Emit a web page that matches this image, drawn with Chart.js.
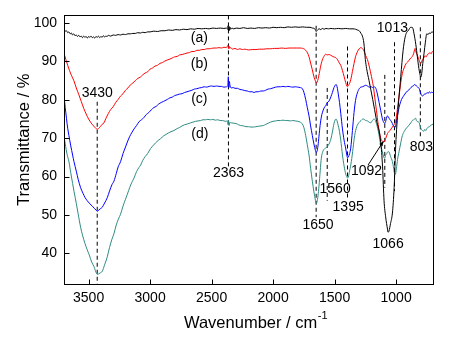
<!DOCTYPE html>
<html>
<head>
<meta charset="utf-8">
<script src="https://cdn.jsdelivr.net/npm/chart.js@4/dist/chart.umd.min.js"></script>
<style>
  html, body { margin: 0; padding: 0; background: #fff; }
  #wrap { width: 454px; height: 340px; }
</style>
</head>
<body>
<div id="wrap"><canvas id="ftir" width="454" height="340"></canvas></div>
<script>
// FTIR spectra, transmittance (%) versus wavenumber (cm-1)
const xTicks = [3500, 3000, 2500, 2000, 1500, 1000];
const yTicks = [40, 50, 60, 70, 80, 90, 100];
const seriesNames = ['(a)', '(b)', '(c)', '(d)'];
const seriesColors = ['#000000', '#ff0000', '#0000ff', '#2e8b82'];

// (a)
const waveA = [3700,3690,3680,3670,3660,3650,3640,3630,3620,3610,3600,3590,3580,3570,3560,3550,3540,3530,3520,3510,3500,3490,3480,3470,3460,3450,3440,3430,3420,3410,3400,3390,3380,3370,3360,3350,3340,3320,3300,3280,3260,3240,3220,3200,3180,3160,3140,3120,3100,3080,3060,3040,3020,3000,2970,2940,2910,2880,2850,2820,2790,2760,2730,2700,2670,2640,2610,2580,2550,2520,2490,2460,2430,2400,2380,2370,2366,2362,2358,2354,2350,2344,2335,2320,2300,2270,2240,2210,2180,2150,2120,2090,2060,2030,2000,1970,1940,1910,1880,1850,1820,1790,1760,1730,1700,1680,1665,1656,1650,1644,1636,1625,1612,1600,1585,1570,1550,1530,1500,1470,1440,1410,1380,1350,1330,1315,1300,1287,1274,1262,1250,1240,1220,1190,1160,1125,1110,1098,1085,1070,1066,1058,1045,1030,1016,1003,984,962,943,927,915,902,881,866,854,840,827,815,805,800,794,783,773,762,751,740,732,720,710,700];
const transA = [98.3,97.9,98.0,97.5,97.7,97.2,97.4,96.9,97.2,96.7,96.9,96.5,96.8,96.4,96.6,96.2,96.6,96.3,96.5,96.1,96.5,96.3,96.6,96.2,96.4,96.1,96.5,96.3,96.6,96.2,96.5,96.3,96.7,96.4,96.6,96.5,96.8,96.6,96.9,96.8,97.0,96.9,97.1,97.0,97.2,97.2,97.3,97.3,97.5,97.4,97.6,97.5,97.7,97.7,97.9,97.8,98.0,98.0,98.2,98.1,98.3,98.2,98.4,98.3,98.5,98.4,98.6,98.5,98.6,98.5,98.7,98.6,98.7,98.6,98.7,98.4,99.3,97.9,99.1,98.1,98.9,98.4,98.7,98.5,98.7,98.6,98.8,98.6,98.7,98.6,98.8,98.7,98.8,98.7,98.9,98.8,98.9,98.8,99.0,98.9,99.0,98.9,99.0,98.9,98.9,98.7,98.6,98.2,97.8,98.0,98.3,98.5,98.3,98.6,98.4,98.6,98.5,98.6,98.5,98.6,98.5,98.6,98.5,98.5,98.4,98.2,98.0,97.4,96.6,94.8,90.5,88.2,85.0,80.1,74.8,69.0,62.5,53.7,49.5,46.3,45.5,45.8,47.8,50.5,57.1,68.2,77.6,86.1,92.9,96.3,97.5,98.0,98.9,98.8,97.2,94.5,91.2,88.2,86.5,85.9,86.3,89.5,92.1,95.0,97.2,97.0,97.4,97.3,97.7,97.6];

// (b)
const waveB = [3700,3685,3670,3655,3640,3620,3600,3580,3560,3540,3520,3500,3480,3460,3445,3430,3420,3405,3390,3375,3360,3340,3320,3300,3280,3260,3240,3220,3200,3180,3160,3140,3120,3100,3080,3060,3040,3020,3000,2980,2960,2940,2920,2900,2880,2860,2840,2820,2800,2780,2760,2740,2720,2700,2680,2660,2640,2620,2600,2580,2560,2540,2520,2500,2480,2460,2440,2420,2400,2380,2366,2362,2358,2352,2345,2330,2310,2290,2270,2250,2230,2200,2170,2140,2110,2080,2050,2020,1990,1960,1930,1900,1870,1840,1810,1780,1760,1745,1735,1720,1708,1695,1681,1667,1655,1650,1642,1633,1625,1615,1600,1585,1572,1560,1545,1531,1515,1500,1490,1475,1462,1450,1436,1423,1410,1400,1395,1388,1378,1369,1355,1342,1330,1315,1300,1287,1275,1260,1247,1233,1219,1200,1185,1173,1160,1145,1125,1110,1100,1092,1085,1070,1050,1030,1015,1003,990,976,962,949,935,920,908,895,880,868,858,850,846,840,830,818,808,800,794,785,775,765,755,745,735,725,715,705,700];
const transB = [92.1,90.5,89.0,87.6,86.4,85.0,83.1,81.4,79.6,77.8,76.3,75.0,74.0,73.2,72.7,72.3,72.5,73.0,73.6,74.0,75.1,76.4,77.5,78.2,79.3,80.1,81.0,81.6,82.5,83.1,83.9,84.4,85.0,85.6,85.9,86.5,87.0,87.3,88.0,88.3,88.8,89.0,89.5,89.7,90.1,90.4,90.6,90.9,91.2,91.3,91.7,91.8,92.0,92.2,92.3,92.6,92.6,92.9,92.9,93.1,93.1,93.3,93.3,93.4,93.5,93.5,93.6,93.5,93.7,93.6,94.2,93.3,94.0,93.4,93.6,93.2,93.4,93.1,93.3,93.1,93.2,93.0,93.1,93.1,93.2,93.2,93.3,93.3,93.4,93.4,93.5,93.4,93.5,93.5,93.5,93.5,93.4,93.2,92.9,92.2,91.2,89.6,87.8,85.9,84.8,84.4,84.6,85.6,86.8,88.5,90.4,91.4,91.9,91.7,91.8,91.6,91.3,91.1,91.0,90.4,89.6,89.0,87.6,86.1,84.5,83.6,83.4,83.7,84.3,85.2,87.4,89.5,91.2,92.5,93.3,93.6,93.4,92.7,91.5,90.5,88.8,86.0,83.5,80.5,77.3,73.5,70.0,69.2,69.0,69.3,69.9,71.2,72.0,72.9,73.6,74.4,77.5,81.0,84.5,86.9,88.3,89.4,89.8,90.3,90.9,91.3,92.0,93.0,93.4,92.6,91.8,90.8,89.9,89.5,89.8,90.5,90.9,91.5,91.2,91.8,92.0,92.3,92.0,92.6,92.5];

// (c)
const waveC = [3700,3690,3680,3670,3660,3645,3630,3619,3600,3585,3565,3545,3530,3511,3490,3470,3450,3435,3430,3420,3405,3389,3370,3348,3330,3310,3294,3275,3260,3240,3220,3200,3185,3165,3150,3131,3110,3090,3070,3050,3030,3010,2990,2969,2950,2930,2910,2890,2860,2840,2820,2800,2780,2760,2740,2720,2700,2680,2660,2640,2620,2600,2580,2560,2540,2520,2500,2480,2460,2440,2420,2400,2380,2368,2364,2360,2356,2350,2340,2325,2310,2290,2270,2250,2230,2210,2190,2170,2155,2140,2120,2100,2080,2060,2040,2020,2000,1980,1960,1940,1920,1900,1880,1860,1840,1820,1800,1780,1762,1750,1735,1722,1708,1695,1681,1668,1656,1650,1643,1635,1627,1618,1608,1600,1585,1572,1560,1545,1530,1518,1505,1495,1488,1480,1470,1460,1450,1436,1423,1409,1398,1395,1388,1378,1369,1355,1342,1330,1315,1300,1287,1274,1260,1247,1233,1218,1205,1193,1180,1165,1152,1138,1125,1111,1100,1092,1083,1075,1070,1062,1050,1043,1030,1020,1013,1006,998,988,976,962,949,935,922,908,895,880,868,858,850,843,835,825,813,805,796,786,776,766,759,748,738,730,720,710,700];
const transC = [81.0,78.0,75.2,72.6,70.7,68.0,65.6,63.9,61.4,59.3,57.1,55.6,54.6,53.7,52.9,52.3,51.6,51.1,50.9,51.2,51.6,52.0,53.1,54.5,56.2,57.9,58.8,60.8,62.5,63.9,66.0,67.7,69.0,70.5,71.4,72.4,73.3,74.3,74.8,75.4,76.2,76.7,77.4,78.0,78.3,78.9,79.3,79.6,80.1,80.5,80.7,81.1,81.3,81.5,81.6,81.9,82.1,82.3,82.5,82.8,82.9,83.1,83.2,83.4,83.3,83.5,83.6,83.5,83.6,83.5,83.5,83.3,83.4,83.7,86.0,83.2,84.8,83.6,83.1,83.2,83.0,83.0,82.7,82.6,82.4,82.3,82.1,82.1,81.9,82.1,82.1,82.3,82.3,82.5,82.8,82.9,83.1,83.3,83.4,83.4,83.5,83.4,83.5,83.4,83.3,83.4,83.3,83.2,82.9,82.0,80.1,78.0,75.8,73.2,70.7,68.5,66.8,66.3,66.6,68.0,70.5,73.3,75.5,76.6,77.9,78.5,79.2,79.7,80.8,81.9,83.2,83.8,84.0,83.4,81.5,79.3,76.5,72.4,69.5,67.2,65.2,64.9,65.1,66.0,67.4,72.0,76.7,79.8,81.8,82.9,83.3,83.4,83.6,83.8,83.6,83.3,83.5,83.2,83.4,83.0,81.5,79.3,77.2,75.0,74.1,73.8,74.6,75.6,75.8,75.5,74.8,74.6,73.8,73.1,72.8,72.9,74.2,76.0,78.0,79.6,80.5,81.2,81.8,82.3,82.6,83.2,83.5,83.7,84.0,83.9,83.6,83.3,83.0,82.2,81.4,81.0,81.2,81.6,81.5,81.9,81.7,82.1,81.8,82.0,81.8];

// (d)
const waveD = [3700,3690,3675,3660,3645,3630,3619,3600,3585,3565,3550,3530,3511,3495,3475,3457,3445,3435,3430,3420,3405,3389,3370,3348,3330,3310,3294,3275,3258,3240,3220,3200,3185,3165,3150,3131,3110,3090,3077,3060,3040,3020,2996,2975,2955,2935,2914,2890,2870,2850,2830,2806,2780,2760,2740,2720,2697,2670,2650,2630,2610,2589,2570,2550,2530,2510,2490,2470,2450,2430,2410,2390,2370,2366,2362,2358,2352,2340,2320,2300,2280,2264,2240,2220,2200,2180,2160,2140,2120,2100,2080,2060,2040,2020,2000,1980,1960,1940,1920,1900,1880,1860,1840,1820,1800,1780,1762,1750,1735,1722,1708,1695,1681,1668,1656,1650,1643,1635,1627,1617,1608,1595,1580,1565,1555,1545,1530,1518,1505,1495,1488,1480,1470,1464,1450,1436,1423,1409,1398,1395,1388,1378,1364,1350,1337,1320,1301,1285,1270,1260,1247,1233,1220,1206,1193,1179,1168,1160,1152,1140,1125,1112,1100,1092,1086,1076,1066,1057,1045,1030,1020,1013,1006,998,988,976,962,949,935,922,908,895,880,868,858,850,841,835,825,813,805,795,786,776,766,759,748,738,728,718,708,700];
const transD = [70.7,68.5,65.8,63.9,61.0,58.2,56.2,53.0,50.3,46.8,44.8,42.6,40.9,39.6,37.7,36.6,35.5,34.7,34.5,34.6,34.9,35.3,37.0,39.1,41.5,43.7,45.1,47.4,48.9,50.2,52.3,54.1,55.4,57.2,58.4,59.6,61.3,62.4,63.0,64.2,65.2,66.0,67.3,68.1,68.8,69.4,69.9,70.6,71.0,71.4,71.7,72.0,72.5,72.8,73.2,73.5,73.7,74.0,74.2,74.4,74.5,74.6,74.8,74.8,74.9,74.8,74.9,74.7,74.8,74.6,74.6,74.4,74.5,73.5,74.6,73.3,74.1,74.0,73.9,73.8,73.5,73.3,73.2,73.0,73.0,72.9,72.9,73.0,73.1,73.2,73.3,73.6,73.9,74.2,74.4,74.5,74.6,74.6,74.7,74.6,74.6,74.5,74.6,74.5,74.4,74.2,73.7,72.8,70.7,68.3,65.6,62.2,58.8,56.0,53.8,53.0,53.4,55.0,57.5,61.5,64.8,66.6,67.3,67.6,68.0,68.5,69.8,71.6,73.8,74.8,75.0,74.5,73.2,72.4,69.5,65.6,62.8,60.6,59.8,59.6,59.9,61.5,63.9,67.4,70.7,73.0,74.1,74.6,75.0,74.9,74.6,74.5,74.2,74.0,74.6,75.0,74.6,73.8,72.9,71.0,68.2,66.5,65.0,64.8,65.5,66.0,66.5,66.4,65.2,63.9,62.2,60.8,60.6,62.0,64.5,66.5,68.8,70.7,71.7,72.4,72.9,73.4,74.0,74.6,74.8,75.0,75.2,74.6,74.3,74.1,73.2,72.3,72.0,71.8,72.3,72.0,72.6,72.9,73.0,73.4,73.5,73.7];

// marked bands: dashed guide lines (wavenumber, top and bottom transmittance)
const bandWave = [3430, 2363, 1650, 1560, 1395, 1092, 1013, 803];
const guideTop = [79.5, 102, 99.3, 83.1, 93.9, 86.5, 95.0, 98.9];
const guideBottom = [32, 62.6, 49.4, 53.7, 54.5, 57.1, 56.2, 69.9];
const minBandA = 1066;

const pts = (xs, ys) => xs.map((x, i) => ({ x: x, y: ys[i] }));
const FONT = '"Liberation Sans", Arial, Helvetica, sans-serif';

const spectra = [
  [waveA, transA], [waveB, transB], [waveC, transC], [waveD, transD]
].map(([w, t], i) => ({
  label: seriesNames[i],
  data: pts(w, t),
  borderColor: seriesColors[i],
  borderWidth: 1,
  pointRadius: 0,
  fill: false,
  cubicInterpolationMode: 'monotone'
}));

const guides = bandWave.map((w, i) => ({
  label: 'guide ' + w,
  data: [{ x: w, y: guideTop[i] }, { x: w, y: guideBottom[i] }],
  borderColor: '#000000',
  borderWidth: 1,
  borderDash: [4, 3],
  pointRadius: 0,
  fill: false
}));

// label placement for the band annotations (data coordinates)
const bandLabelPos = {
  3430: [3430, 81.8], 2363: [2363, 60.8], 1650: [1635, 47.3], 1560: [1496, 56.8],
  1395: [1390, 52.0], 1092: [1240, 61.3], 1013: [1030, 98.7], 803: [794, 67.6]
};
const seriesLabelPos = [[2600, 96.0], [2600, 89.2], [2600, 80.3], [2595, 71.1]];

const decor = {
  id: 'decor',
  afterDatasetsDraw(chart) {
    const { ctx, chartArea: a, scales } = chart;
    const xs = scales.x, ys = scales.y;
    ctx.save();
    ctx.strokeStyle = '#000';
    ctx.lineWidth = 1;
    ctx.setLineDash([]);
    const L = Math.round(a.left) + 0.5, R = Math.round(a.right) + 0.5;
    const T = Math.round(a.top) + 0.5, B = Math.round(a.bottom) + 0.5;
    ctx.strokeRect(L, T, R - L, B - T);
    ctx.beginPath();
    xs.ticks.forEach(t => {
      const px = Math.round(xs.getPixelForValue(t.value)) + 0.5;
      ctx.moveTo(px, B); ctx.lineTo(px, B - 5);
    });
    ys.ticks.forEach(t => {
      const py = Math.round(ys.getPixelForValue(t.value)) + 0.5;
      ctx.moveTo(L, py); ctx.lineTo(L + 5, py);
    });
    ctx.stroke();

    ctx.fillStyle = '#000';
    ctx.font = '14px ' + FONT;
    ctx.textAlign = 'center';
    ctx.textBaseline = 'middle';
    bandWave.forEach(w => {
      const p = bandLabelPos[w];
      ctx.fillText(String(w), xs.getPixelForValue(p[0]), ys.getPixelForValue(p[1]));
    });
    ctx.fillText(String(minBandA), xs.getPixelForValue(1065), ys.getPixelForValue(42.3));
    seriesNames.forEach((n, i) => {
      const p = seriesLabelPos[i];
      ctx.fillText(n, xs.getPixelForValue(p[0]), ys.getPixelForValue(p[1]));
    });

    // leader arrow from the 1092 label
    const x0 = xs.getPixelForValue(1228), y0 = ys.getPixelForValue(63.0);
    const x1 = xs.getPixelForValue(1103), y1 = ys.getPixelForValue(69.2);
    ctx.beginPath();
    ctx.moveTo(x0, y0); ctx.lineTo(x1, y1);
    ctx.stroke();
    const ang = Math.atan2(y1 - y0, x1 - x0);
    ctx.beginPath();
    ctx.moveTo(x1, y1);
    ctx.lineTo(x1 - 5 * Math.cos(ang - 0.4), y1 - 5 * Math.sin(ang - 0.4));
    ctx.lineTo(x1 - 5 * Math.cos(ang + 0.4), y1 - 5 * Math.sin(ang + 0.4));
    ctx.closePath();
    ctx.fill();

    // axis titles
    ctx.font = '16.5px ' + FONT;
    ctx.textBaseline = 'alphabetic';
    ctx.textAlign = 'left';
    const main = 'Wavenumber / cm';
    const wMain = ctx.measureText(main).width;
    ctx.font = '11px ' + FONT;
    const sup = '-1';
    const wSup = ctx.measureText(sup).width;
    const cx = (a.left + a.right) / 2 + 7;
    const startX = cx - (wMain + wSup) / 2;
    ctx.font = '16.5px ' + FONT;
    ctx.fillText(main, startX, 327.5);
    ctx.font = '11px ' + FONT;
    ctx.fillText(sup, startX + wMain + 0.5, 319);

    ctx.font = '16.5px ' + FONT;
    ctx.textAlign = 'center';
    ctx.translate(29.3, (a.top + a.bottom) / 2 - 10);
    ctx.rotate(-Math.PI / 2);
    ctx.fillText('Transmittance / %', 0, 0);
    ctx.restore();
  }
};

new Chart(document.getElementById('ftir'), {
  type: 'line',
  data: { datasets: spectra.concat(guides) },
  options: {
    responsive: false,
    animation: false,
    devicePixelRatio: 1,
    parsing: true,
    layout: { padding: { left: 0, top: 11, right: 21, bottom: 0 } },
    plugins: { legend: { display: false }, tooltip: { enabled: false } },
    scales: {
      x: {
        type: 'linear',
        reverse: true,
        min: 700,
        max: 3700,
        afterBuildTicks: s => { s.ticks = xTicks.map(v => ({ value: v })); },
        afterFit: s => { s.height = 56; },
        grid: { display: false, drawTicks: false },
        border: { display: false },
        ticks: { color: '#000', font: { size: 14, family: FONT }, padding: 6, maxRotation: 0, callback: v => String(v) }
      },
      y: {
        type: 'linear',
        min: 32,
        max: 102,
        afterBuildTicks: s => { s.ticks = yTicks.map(v => ({ value: v })); },
        afterFit: s => { s.width = 64; },
        grid: { display: false, drawTicks: false },
        border: { display: false },
        ticks: { color: '#000', font: { size: 14, family: FONT }, padding: 7, callback: v => String(v) }
      }
    }
  },
  plugins: [decor]
});
</script>
</body>
</html>
